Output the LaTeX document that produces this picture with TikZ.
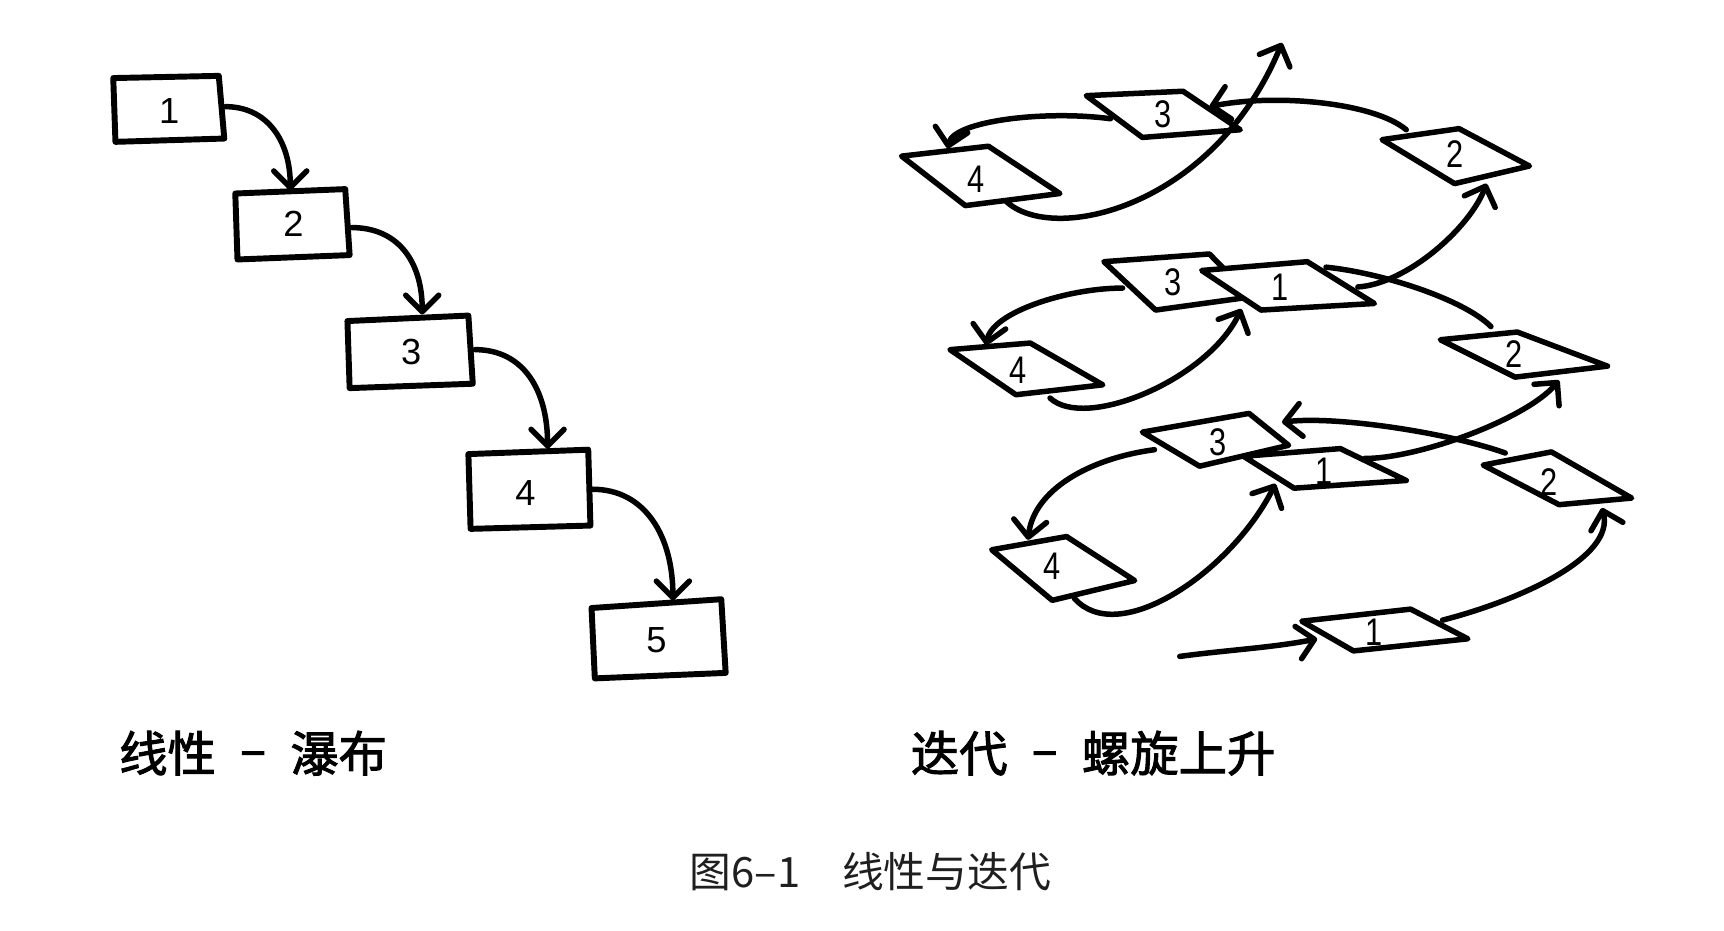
\documentclass[tikz,border=0pt]{standalone}
\usepackage{graphicx}
\usepackage{fontspec}
\setmainfont{Liberation Sans}
\newfontfamily\cjk{Noto Sans CJK SC}
\newfontfamily\cjkm{Noto Sans CJK SC}[FakeBold=2]
\usetikzlibrary{arrows.meta}
\begin{document}
\begin{tikzpicture}[x=0.5pt,y=-0.5pt,
  ln/.style={line width=2.5pt, line cap=round, line join=round},
  boxln/.style={line width=2.7pt, line cap=round, line join=round, fill=white},
  para/.style={line width=2.5pt, line cap=round, line join=round, fill=white},
  arr/.style={ln, -{Straight Barb[length=7.5pt,width=15pt,round]}},
  ldig/.style={font=\fontsize{16.5}{16.5}\selectfont, inner sep=0pt},
  rdig/.style={font=\fontsize{17.5}{17.5}\selectfont, inner sep=0pt},
  title/.style={font=\cjkm\fontsize{22}{22}\selectfont, inner sep=0pt, anchor=west},
  capt/.style={font=\cjk\fontsize{19}{19}\selectfont, inner sep=0pt, anchor=west, text=black!88}]
\useasboundingbox (0,0) rectangle (1568,846);

% ---------- left: waterfall ----------
\draw[boxln] (103,71) -- (199,69) -- (204,126) -- (105,129) -- cycle;
\draw[boxln] (214,176) -- (314,172) -- (318,232) -- (216,236) -- cycle;
\draw[boxln] (316,292) -- (426,287) -- (430,349) -- (318,353) -- cycle;
\draw[boxln] (426,413) -- (535,409) -- (537,478) -- (428,481) -- cycle;
\draw[boxln] (538,553) -- (656,545) -- (660,612) -- (541,617) -- cycle;
\node[ldig] (b1) at (154,101) {1};
\node[ldig] (b2) at (267,204) {2};
\node[ldig] (b3) at (374,320) {3};
\node[ldig] (b4) at (478,448) {4};
\node[ldig] (b5) at (597,582) {5};
\coordinate (a1s) at (205,97);  \coordinate (a1e) at (264,173);
\coordinate (a2s) at (320,207); \coordinate (a2e) at (384,286);
\coordinate (a3s) at (432,318); \coordinate (a3e) at (498,408);
\coordinate (a4s) at (539,445); \coordinate (a4e) at (612,546);
\draw[arr] (a1s) .. controls +(38,0) and +(0,-45) .. (a1e);
\draw[arr] (a2s) .. controls +(42,0) and +(0,-48) .. (a2e);
\draw[arr] (a3s) .. controls +(45,0) and +(0,-52) .. (a3e);
\draw[arr] (a4s) .. controls +(48,0) and +(0,-58) .. (a4e);

% ---------- right: spiral ----------
% top tier
\draw[para] (820,142) -- (899,133) -- (964,176) -- (878,187) -- cycle;
\draw[para] (988,87) -- (1076,83) -- (1128,118) -- (1039,125) -- cycle;
\draw[para] (1257,127) -- (1327,117) -- (1391,151) -- (1323,167) -- cycle;
% middle tier
\draw[para] (1004,238) -- (1100,231) -- (1138,270) -- (1051,282) -- cycle;
\draw[para] (1093,246) -- (1189,238) -- (1250,276) -- (1147,282) -- cycle;
\draw[para] (864,318) -- (937,312) -- (1003,350) -- (924,359) -- cycle;
\draw[para] (1310,309) -- (1380,302) -- (1462,333) -- (1378,343) -- cycle;
% lower tier
\draw[para] (1039,393) -- (1136,376) -- (1172,405) -- (1091,424) -- cycle;
\draw[para] (1131,415) -- (1219,408) -- (1279,437) -- (1177,444) -- cycle;
\draw[para] (1349,423) -- (1411,411) -- (1484,453) -- (1418,459) -- cycle;
\draw[para] (902,500) -- (970,488) -- (1032,528) -- (957,546) -- cycle;
% bottom
\draw[para] (1184,565) -- (1283,554) -- (1335,581) -- (1231,592) -- cycle;

\node[rdig] (p4t) at (888,163) {\scalebox{0.8}[1]{4}};
\node[rdig] (p3t) at (1058,104) {\scalebox{0.8}[1]{3}};
\node[rdig] (p2t) at (1323,140) {\scalebox{0.8}[1]{2}};
\node[rdig] (p3m) at (1067,257) {\scalebox{0.8}[1]{3}};
\node[rdig] (p1m) at (1164,261) {\scalebox{0.8}[1]{1}};
\node[rdig] (p4m) at (926,337) {\scalebox{0.8}[1]{4}};
\node[rdig] (p2m) at (1377,322) {\scalebox{0.8}[1]{2}};
\node[rdig] (p3l) at (1108,402) {\scalebox{0.8}[1]{3}};
\node[rdig] (p1l) at (1204,429) {\scalebox{0.8}[1]{1}};
\node[rdig] (p2l) at (1409,438) {\scalebox{0.8}[1]{2}};
\node[rdig] (p4l) at (957,515) {\scalebox{0.8}[1]{4}};
\node[rdig] (p1b) at (1250,575) {\scalebox{0.8}[1]{1}};

\coordinate (c0s) at (1073,597);  \coordinate (c0e) at (1198,581);
\coordinate (c1s) at (1312,564);  \coordinate (c1e) at (1457,462);
\coordinate (c2s) at (1369,412);  \coordinate (c2e) at (1166,384);
\coordinate (c3s) at (1050,409);  \coordinate (c3e) at (935,491);
\coordinate (c4s) at (977,544);   \coordinate (c4e) at (1160,440);
\coordinate (c5s) at (1241,417);  \coordinate (c5e) at (1418,346);
\coordinate (c6s) at (1356,297);  \coordinate (c6e) at (1206,243);
\coordinate (c7s) at (1021,262);  \coordinate (c7e) at (897,314);
\coordinate (c8s) at (955,362);   \coordinate (c8e) at (1129,281);
\coordinate (c9s) at (1235,261);  \coordinate (c9e) at (1352,167);
\coordinate (c10s) at (1279,118); \coordinate (c10e) at (1100,97);
\coordinate (c11s) at (1010,108); \coordinate (c11e) at (862,135);
\coordinate (c12s) at (915,183);  \coordinate (c12e) at (1166,39);

\draw[arr] (c0s) .. controls +(45,-6) and +(-40,8) .. (c0e);
\draw[arr] (c1s) .. controls +(70,-18) and +(12,45) .. (c1e);
\draw[arr] (c2s) .. controls +(-50,-18) and +(50,-6) .. (c2e);
\draw[arr] (c3s) .. controls +(-60,8) and +(5,-45) .. (c3e);
\draw[arr] (c4s) .. controls +(40,46) and +(-40,80) .. (c4e);
\draw[arr] (c5s) .. controls +(50,0) and +(-30,35) .. (c5e);
\draw[ln]  (c6s) .. controls +(-25,-25) and +(50,5) .. (c6e);
\draw[arr] (c7s) .. controls +(-50,0) and +(5,-30) .. (c7e);
\draw[arr] (c8s) .. controls +(32,30) and +(-30,64) .. (c8e);
\draw[arr] (c9s) .. controls +(45,-3) and +(-15,40) .. (c9e);
\draw[arr] (c10s) .. controls +(-30,-25) and +(60,-12) .. (c10e);
\draw[arr] (c11s) .. controls +(-60,-8) and +(5,-25) .. (c11e);
\draw[arr] (c12s) .. controls +(42,40) and +(-62,150) .. (c12e);

% ---------- texts ----------
\node[title] (t1) at (108,685) {线性\hspace{0.5em}\raisebox{0.1em}{–}\hspace{0.5em}瀑布};
\node[title] (t2) at (828,685) {迭代\hspace{0.5em}\raisebox{0.1em}{–}\hspace{0.5em}螺旋上升};
\node[capt] (cap) at (627,793) {图6–1\hspace{1em}线性与迭代};
\end{tikzpicture}
\end{document}
